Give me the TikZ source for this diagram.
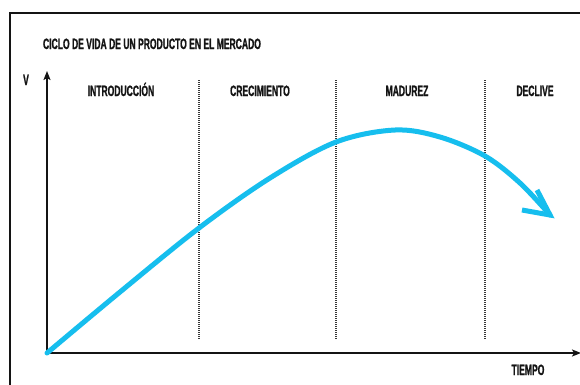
\documentclass[tikz,border=0pt]{standalone}
\usepackage{fontspec}
\newfontfamily\cond{Liberation Sans}[FakeStretch=0.57, FakeBold=1]
\usetikzlibrary{arrows.meta}
\definecolor{curvecol}{RGB}{22,190,238}
\definecolor{ink}{RGB}{20,20,20}
\tikzset{
  lbl/.style={inner sep=0pt, anchor=base, text=ink, font=\fontsize{15}{15}\cond\bfseries},
  axis/.style={line width=1.5pt, draw=ink, -{Stealth[length=9pt,width=7pt,inset=2pt]}},
  divider/.style={draw=ink!85, line width=1.4pt, dash pattern=on 1pt off 1pt},
  lifecurve/.style={draw=curvecol, line width=5pt, line cap=round, line join=round},
  frameline/.style={draw=ink, line width=1.5pt}
}
\begin{document}
\begin{tikzpicture}[x=1pt,y=-1pt]
\useasboundingbox[fill=white] (0,0) rectangle (580,384);
% frame
\coordinate (fbl) at (10,390);
\coordinate (ftl) at (10,13);
\coordinate (ftr) at (590,13);
\draw[frameline] (fbl) -- (ftl) -- (ftr);
% axes
\coordinate (o) at (47,353);
\coordinate (ytop) at (47,71);
\coordinate (xend) at (581,353);
\draw[axis] (o) -- (ytop);
\draw[axis] (o) -- (xend);
% dividers
\foreach \x/\n in {199/a,336/b,485/c}{
  \coordinate (d\n t) at (\x,80);
  \coordinate (d\n b) at (\x,339);
  \draw[divider] (d\n t) -- (d\n b);
}
% labels
\node[lbl] (title) at (152,49) {CICLO DE VIDA DE UN PRODUCTO EN EL MERCADO};
\node[lbl] (v) at (26,85) {V};
\node[lbl] (intro) at (121,96) {INTRODUCCIÓN};
\node[lbl] (crec) at (260,96) {CRECIMIENTO};
\node[lbl] (mad) at (407,96) {MADUREZ};
\node[lbl] (decl) at (535,96) {DECLIVE};
\node[lbl] (tiempo) at (528,375) {TIEMPO};
% curve
\draw[lifecurve] plot[smooth, tension=0.55] coordinates
  {(47,353) (120,292) (199,228) (270,178) (336,142) (395,130) (440,137) (485,156) (520,183) (550,215)};
\coordinate (tip) at (550,215);
\coordinate (arm1) at (537,190);
\coordinate (arm2) at (522,210);
\draw[lifecurve, line cap=butt, line join=miter] (arm1) -- (tip) -- (arm2);
\end{tikzpicture}
\end{document}
